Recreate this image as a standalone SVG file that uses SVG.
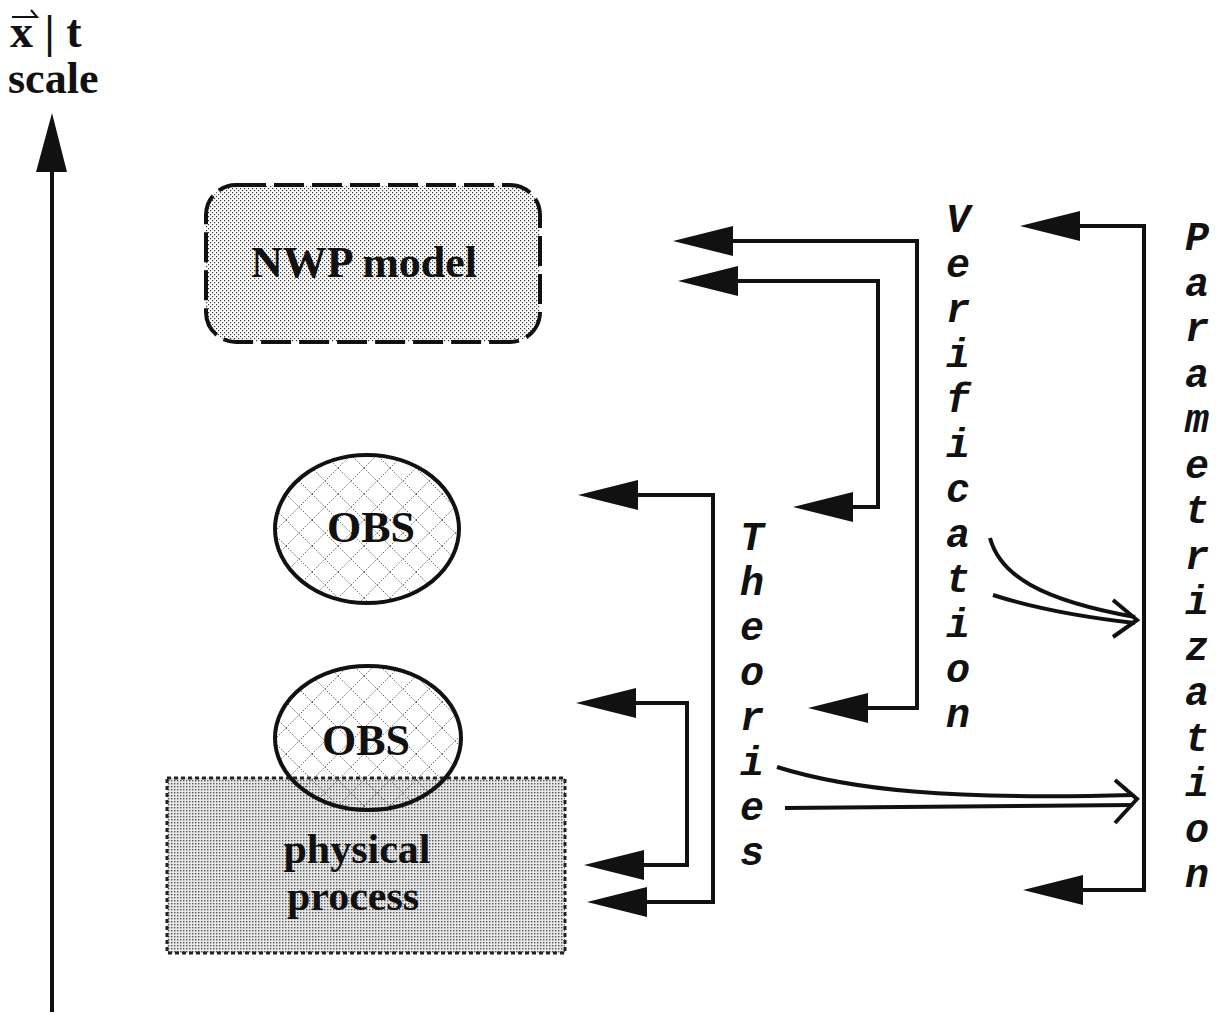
<svg xmlns="http://www.w3.org/2000/svg" width="1226" height="1017" viewBox="0 0 1226 1017">
<style>
.serif{font-family:"Liberation Serif","Times New Roman",serif;font-weight:bold;fill:#111}
.mono{font-family:"Liberation Mono","Courier New",monospace;font-weight:bold;font-style:italic;font-size:40px;fill:#111;text-anchor:middle}
.conn{fill:none;stroke:#111;stroke-width:4;stroke-linejoin:miter}
.curve{fill:none;stroke:#111;stroke-width:4;stroke-linecap:butt}
</style>
<defs>
<pattern id="dotsLight" width="4" height="4" patternUnits="userSpaceOnUse">
<rect width="4" height="4" fill="#fff"/>
<rect x="0" y="0" width="1.2" height="1.2" fill="#333"/>
<rect x="2" y="2" width="1.2" height="1.2" fill="#333"/>
</pattern>
<pattern id="dotsDense" width="3" height="3" patternUnits="userSpaceOnUse">
<rect width="3" height="3" fill="#e8e8e8"/>
<rect x="0" y="0" width="1.4" height="1.4" fill="#555"/>
</pattern>
<pattern id="hatch" width="26" height="26" patternUnits="userSpaceOnUse">
<path d="M0,0 L26,26 M0,26 L26,0" stroke="#666" stroke-width="1" stroke-dasharray="1.5 1.5" fill="none"/>
</pattern>
<marker id="head" viewBox="0 0 60 30" markerWidth="60" markerHeight="30" refX="0" refY="15" orient="auto-start-reverse" markerUnits="userSpaceOnUse">
<path d="M0,0 L60,15 L0,30 Z" fill="#111"/>
</marker>
</defs>
<rect width="1226" height="1017" fill="#fff"/>

<g id="axis">
<path d="M52,1012 V170" stroke="#111" stroke-width="4" fill="none"/>
<polygon points="52,113 36,172 67,172" fill="#111"/>
<path d="M12,17 L37,17 L31,10" stroke="#111" stroke-width="2" fill="none"/>
<text class="serif" x="10" y="47" font-size="46">x | t</text>
<text class="serif" x="8" y="93" font-size="44">scale</text>
</g>

<g id="nwp-model">
<rect x="206" y="185" width="334" height="157" rx="30" ry="30" fill="url(#dotsLight)" stroke="#111" stroke-width="4" stroke-dasharray="30 8"/>
<text class="serif" x="364" y="277" font-size="44" text-anchor="middle">NWP model</text>
</g>

<g id="obs-upper">
<ellipse cx="367" cy="529" rx="92" ry="74" fill="url(#hatch)" stroke="#111" stroke-width="4"/>
<text class="serif" x="371" y="542" font-size="44" text-anchor="middle">OBS</text>
</g>

<g id="physical-process">
<rect x="167" y="778" width="398" height="175" fill="url(#dotsDense)" stroke="#222" stroke-width="3" stroke-dasharray="4 3"/>
<text class="serif" x="357" y="863" font-size="42" text-anchor="middle">physical</text>
<text class="serif" x="353" y="910" font-size="42" text-anchor="middle">process</text>
</g>

<g id="obs-lower">
<ellipse cx="368" cy="738" rx="93" ry="72" fill="url(#hatch)" stroke="#111" stroke-width="4"/>
<text class="serif" x="366" y="755" font-size="44" text-anchor="middle">OBS</text>
</g>

<g id="labels">
<text class="mono"><tspan x="958" y="232">V</tspan><tspan x="958" dy="45">e</tspan><tspan x="958" dy="45">r</tspan><tspan x="958" dy="45">i</tspan><tspan x="958" dy="45">f</tspan><tspan x="958" dy="45">i</tspan><tspan x="958" dy="45">c</tspan><tspan x="958" dy="45">a</tspan><tspan x="958" dy="45">t</tspan><tspan x="958" dy="45">i</tspan><tspan x="958" dy="45">o</tspan><tspan x="958" dy="45">n</tspan></text>
<text class="mono"><tspan x="752" y="550">T</tspan><tspan x="752" dy="45">h</tspan><tspan x="752" dy="45">e</tspan><tspan x="752" dy="45">o</tspan><tspan x="752" dy="45">r</tspan><tspan x="752" dy="45">i</tspan><tspan x="752" dy="45">e</tspan><tspan x="752" dy="45">s</tspan></text>
<text class="mono"><tspan x="1197" y="250">P</tspan><tspan x="1197" dy="45.5">a</tspan><tspan x="1197" dy="45.5">r</tspan><tspan x="1197" dy="45.5">a</tspan><tspan x="1197" dy="45.5">m</tspan><tspan x="1197" dy="45.5">e</tspan><tspan x="1197" dy="45.5">t</tspan><tspan x="1197" dy="45.5">r</tspan><tspan x="1197" dy="45.5">i</tspan><tspan x="1197" dy="45.5">z</tspan><tspan x="1197" dy="45.5">a</tspan><tspan x="1197" dy="45.5">t</tspan><tspan x="1197" dy="45.5">i</tspan><tspan x="1197" dy="45.5">o</tspan><tspan x="1197" dy="45.5">n</tspan></text>
</g>

<g id="connectors">
<path class="conn" d="M733,241 H917 V708 H868" marker-start="url(#head)" marker-end="url(#head)"/>
<path class="conn" d="M738,281 H878 V507 H853" marker-start="url(#head)" marker-end="url(#head)"/>
<path class="conn" d="M638,495 H713 V902 H647" marker-start="url(#head)" marker-end="url(#head)"/>
<path class="conn" d="M636,703 H687 V865 H644" marker-start="url(#head)" marker-end="url(#head)"/>
<path class="conn" d="M1080,226 H1144 V890 H1083" marker-start="url(#head)" marker-end="url(#head)"/>
<path class="curve" d="M990,538 C1000,575 1040,600 1135,617"/>
<path class="curve" d="M993,595 C1040,610 1090,618 1135,623"/>
<path class="curve" d="M1113,600 L1137,620 L1113,637"/>
<path class="curve" d="M777,767 C850,790 950,800 1133,795"/>
<path class="curve" d="M785,808 L1133,805"/>
<path class="curve" d="M1115,780 L1137,799 L1115,823"/>
</g>
</svg>
